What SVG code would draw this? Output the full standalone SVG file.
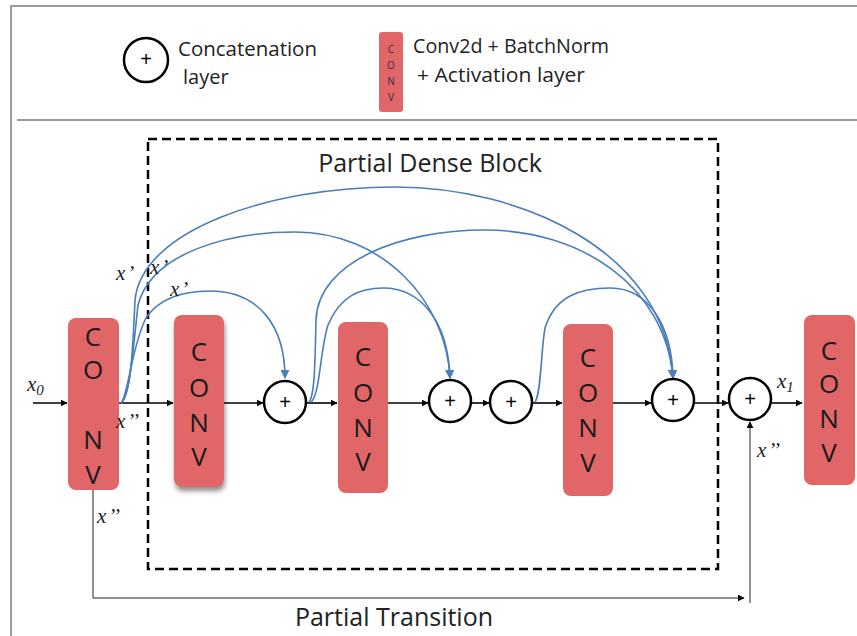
<svg xmlns="http://www.w3.org/2000/svg" width="857" height="636" viewBox="0 0 857 636">
  <style>
    .frame { stroke: #9a9a9a; stroke-width: 2; fill: none; }
    .conv { fill: #e06668; }
    .convtxt { font-family: "Open Sans", "Liberation Sans", sans-serif; font-size: 26px; fill: #1a1a1a; text-anchor: middle; }
    .label { font-family: "Open Sans", "Liberation Sans", sans-serif; font-size: 20px; fill: #222; }
    .title { font-family: "Open Sans", "Liberation Sans", sans-serif; font-size: 25px; fill: #222; }
    .math { font-family: "Liberation Serif", serif; font-style: italic; font-size: 21px; fill: #222; }
    .cat { fill: #fff; stroke: #000; stroke-width: 2.5; }
    .plus { font-family: "Liberation Sans", sans-serif; font-size: 20px; fill: #000; text-anchor: middle; }
    .flow { stroke: #000; stroke-width: 1.6; fill: none; marker-end: url(#ah); }
    .thin { stroke: #222; stroke-width: 1; fill: none; }
    .skip { stroke: #4a7ebb; stroke-width: 1.6; fill: none; marker-end: url(#bh); }
    .block { stroke: #000; stroke-width: 2.5; stroke-dasharray: 9 5; fill: none; }
  </style>
  <defs>
    <marker id="ah" viewBox="0 0 10 10" refX="9" refY="5" markerWidth="7" markerHeight="7" markerUnits="userSpaceOnUse" orient="auto">
      <path d="M0,0 L10,5 L0,10 z" fill="#000"/>
    </marker>
    <marker id="bh" viewBox="0 0 10 10" refX="9" refY="5" markerWidth="9" markerHeight="9" markerUnits="userSpaceOnUse" orient="auto">
      <path d="M0,0 L10,5 L0,10 z" fill="#4a7ebb"/>
    </marker>
    <filter id="shadow" x="-30%" y="-10%" width="160%" height="130%">
      <feGaussianBlur in="SourceAlpha" stdDeviation="2.5"/>
      <feOffset dx="1" dy="4" result="o"/>
      <feComponentTransfer><feFuncA type="linear" slope="0.45"/></feComponentTransfer>
      <feMerge><feMergeNode/><feMergeNode in="SourceGraphic"/></feMerge>
    </filter>
  </defs>

  <rect width="857" height="636" fill="#fff"/>

  <!-- outer frame and legend separator -->
  <path class="frame" d="M11,636 V6 H857"/>
  <path class="frame" d="M17,120 H857"/>

  <!-- legend -->
  <g id="legend">
    <circle class="cat" cx="146" cy="60" r="22"/>
    <text class="plus" x="146" y="66" font-size="16">+</text>
    <text class="label" x="178" y="56" textLength="139" lengthAdjust="spacingAndGlyphs">Concatenation</text>
    <text class="label" x="183" y="84">layer</text>
    <rect class="conv" x="379" y="32" width="24" height="80" rx="3"/>
    <g font-family="Open Sans, Liberation Sans, sans-serif" font-size="10" fill="#333" text-anchor="middle">
      <text x="391" y="53">C</text>
      <text x="391" y="69">O</text>
      <text x="391" y="85">N</text>
      <text x="391" y="101">V</text>
    </g>
    <text class="label" x="413" y="53" textLength="196" lengthAdjust="spacingAndGlyphs">Conv2d + BatchNorm</text>
    <text class="label" x="417" y="82" textLength="168" lengthAdjust="spacingAndGlyphs">+ Activation layer</text>
  </g>

  <!-- partial dense block frame -->
  <g id="dense-block">
    <rect class="block" x="148" y="139" width="570" height="430"/>
    <text class="title" x="430" y="172" text-anchor="middle">Partial Dense Block</text>
  </g>

  <!-- connectors -->
  <g id="connectors">
    <!-- main path -->
    <line class="flow" x1="33" y1="403" x2="67" y2="403"/>
    <line class="flow" x1="68" y1="403" x2="173" y2="403"/>
    <line class="flow" x1="224" y1="403" x2="263" y2="403"/>
    <line class="flow" x1="306" y1="403" x2="337" y2="403"/>
    <line class="flow" x1="388" y1="403" x2="428" y2="403"/>
    <line class="flow" x1="471" y1="403" x2="489" y2="403"/>
    <line class="flow" x1="532" y1="403" x2="562" y2="403"/>
    <line class="flow" x1="613" y1="403" x2="651" y2="403"/>
    <line class="flow" x1="694" y1="403" x2="728" y2="403"/>
    <line class="flow" x1="771" y1="403" x2="802" y2="403"/>

    <!-- partial transition bypass -->
    <path class="thin" d="M93,490 V598 H744" marker-end="url(#ah)"/>
    <line class="thin" x1="750" y1="603" x2="750" y2="422" marker-end="url(#ah)"/>

    <!-- dense skip links -->
    <path class="skip" d="M121,403 C131,396 133,345 135,300 C142,230 270,187 395,187 C520,187 665,250 673,378"/>
    <path class="skip" d="M121,403 C130,396 133,350 138,305 C152,252 230,232 295,232 C382,232 446,300 450,378"/>
    <path class="skip" d="M121,403 C128,396 132,345 146,318 C160,297 185,291 210,291 C258,291 285,325 285,378"/>
    <path class="skip" d="M309,402 C315,395 315,360 316,320 C318,262 400,230 485,230 C580,230 665,285 673,378"/>
    <path class="skip" d="M311,402 C320,395 320,350 328,325 C340,296 360,288 383,288 C420,288 448,320 450,378"/>
    <path class="skip" d="M535,402 C541,395 541,350 545,328 C555,296 580,288 610,288 C650,288 672,328 673,378"/>
  </g>

  <!-- conv nodes -->
  <g id="conv1">
    <rect class="conv" x="68" y="318" width="51" height="172" rx="8"/>
    <text class="convtxt" x="93" y="346" font-size="24">C</text>
    <text class="convtxt" x="93" y="379" font-size="24">O</text>
    <text class="convtxt" x="93" y="449" font-size="24">N</text>
    <text class="convtxt" x="93" y="484" font-size="24">V</text>
  </g>
  <g id="conv2">
    <rect class="conv" x="174" y="315" width="50" height="172" rx="8" filter="url(#shadow)"/>
    <text class="convtxt" x="199" y="361">C</text>
    <text class="convtxt" x="199" y="397">O</text>
    <text class="convtxt" x="199" y="432">N</text>
    <text class="convtxt" x="199" y="466">V</text>
  </g>
  <g id="conv3">
    <rect class="conv" x="338" y="322" width="50" height="171" rx="8"/>
    <text class="convtxt" x="363" y="366">C</text>
    <text class="convtxt" x="363" y="402">O</text>
    <text class="convtxt" x="363" y="437">N</text>
    <text class="convtxt" x="363" y="471">V</text>
  </g>
  <g id="conv4">
    <rect class="conv" x="563" y="324" width="50" height="172" rx="8"/>
    <text class="convtxt" x="588" y="367">C</text>
    <text class="convtxt" x="588" y="402">O</text>
    <text class="convtxt" x="588" y="437">N</text>
    <text class="convtxt" x="588" y="472">V</text>
  </g>
  <g id="conv5">
    <rect class="conv" x="804" y="315" width="51" height="170" rx="8"/>
    <text class="convtxt" x="829" y="360" font-size="24">C</text>
    <text class="convtxt" x="829" y="393" font-size="24">O</text>
    <text class="convtxt" x="829" y="428" font-size="24">N</text>
    <text class="convtxt" x="829" y="462" font-size="24">V</text>
  </g>

  <!-- concatenation nodes -->
  <g id="cat1"><circle class="cat" cx="285" cy="402" r="21"/><text class="plus" x="285" y="409">+</text></g>
  <g id="cat2"><circle class="cat" cx="450" cy="401" r="21"/><text class="plus" x="450" y="408">+</text></g>
  <g id="cat3"><circle class="cat" cx="511" cy="402" r="21"/><text class="plus" x="511" y="409">+</text></g>
  <g id="cat4"><circle class="cat" cx="673" cy="400" r="21"/><text class="plus" x="673" y="407">+</text></g>
  <g id="cat5"><circle class="cat" cx="750" cy="399" r="21"/><text class="plus" x="750" y="406">+</text></g>

  <!-- signal labels -->
  <g id="labels">
    <text class="math" x="27" y="391">x<tspan font-size="15" dy="4">0</tspan></text>
    <text class="math" x="116" y="280">x<tspan dx="2">’</tspan></text>
    <text class="math" x="150" y="274">x<tspan dx="2">’</tspan></text>
    <text class="math" x="170" y="296">x<tspan dx="2">’</tspan></text>
    <text class="math" x="116" y="428">x<tspan dx="2">’’</tspan></text>
    <text class="math" x="97" y="523">x<tspan dx="2">’’</tspan></text>
    <text class="math" x="757" y="457">x<tspan dx="2">’’</tspan></text>
    <text class="math" x="777" y="388">x<tspan font-size="15" dy="4">1</tspan></text>
    <text class="title" x="394" y="626" text-anchor="middle">Partial Transition</text>
  </g>
</svg>
